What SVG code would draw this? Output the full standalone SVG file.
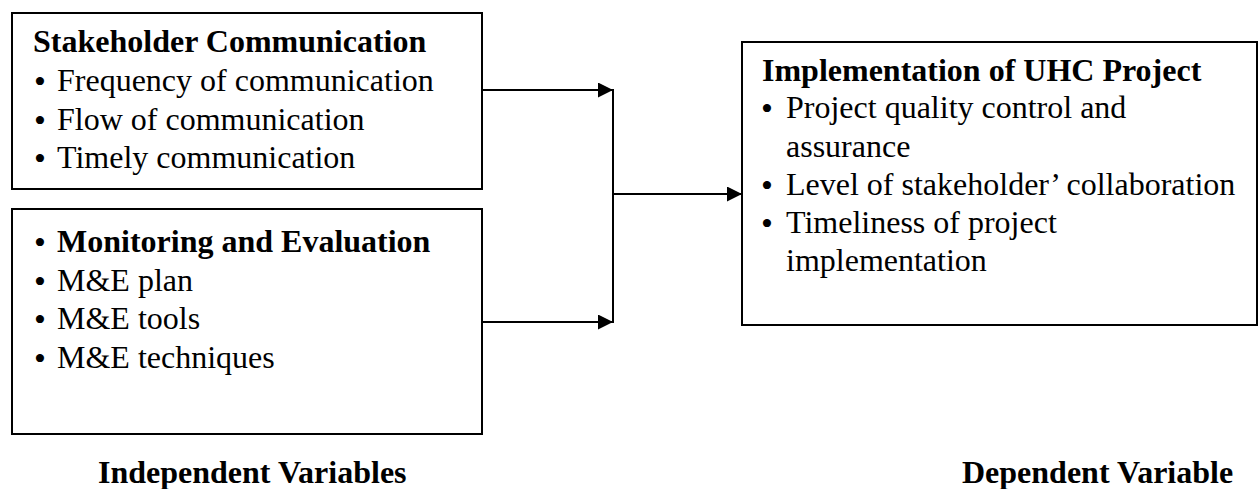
<svg xmlns="http://www.w3.org/2000/svg" width="1259" height="489" viewBox="0 0 1259 489">
<style>
text{font-family:'Liberation Serif','Times New Roman',Times,serif;font-size:32px;fill:#000}
.b{font-weight:bold}
.bu{font-size:34px;font-weight:normal}
.box{fill:#fff;stroke:#000;stroke-width:2}
.ln{fill:none;stroke:#000;stroke-width:2}
</style>
<defs>
<marker id="ah" markerWidth="16" markerHeight="16" refX="15" refY="7.5" orient="auto" markerUnits="userSpaceOnUse">
<path d="M0,0 L15,7.5 L0,15 Z" fill="#000"/>
</marker>
</defs>
<rect width="1259" height="489" fill="#fff"/>
<g id="stakeholder">
<rect class="box" x="12" y="13" width="470" height="176"/>
<text class="b" x="33" y="52">Stakeholder Communication</text>
<text x="34" y="93"><tspan class="bu">•</tspan><tspan x="57" dy="-2">Frequency of communication</tspan></text>
<text x="34" y="132"><tspan class="bu">•</tspan><tspan x="57" dy="-2">Flow of communication</tspan></text>
<text x="34" y="170"><tspan class="bu">•</tspan><tspan x="57" dy="-2">Timely communication</tspan></text>
</g>
<g id="monitoring">
<rect class="box" x="12" y="209" width="470" height="225"/>
<text x="34" y="254"><tspan class="bu">•</tspan><tspan class="b" x="57" dy="-2">Monitoring and Evaluation</tspan></text>
<text x="34" y="293"><tspan class="bu">•</tspan><tspan x="57" dy="-2">M&amp;E plan</tspan></text>
<text x="34" y="331"><tspan class="bu">•</tspan><tspan x="57" dy="-2">M&amp;E tools</tspan></text>
<text x="34" y="370"><tspan class="bu">•</tspan><tspan x="57" dy="-2">M&amp;E techniques</tspan></text>
</g>
<g id="implementation">
<rect class="box" x="742" y="42" width="515" height="283"/>
<text class="b" x="762" y="81">Implementation of UHC Project</text>
<text x="761" y="120"><tspan class="bu">•</tspan><tspan x="786" dy="-2">Project quality control and</tspan><tspan x="786" dy="39">assurance</tspan></text>
<text x="761" y="197"><tspan class="bu">•</tspan><tspan x="786" dy="-2">Level of stakeholder’ collaboration</tspan></text>
<text x="761" y="235"><tspan class="bu">•</tspan><tspan x="786" dy="-2">Timeliness of project</tspan><tspan x="786" dy="38">implementation</tspan></text>
</g>
<g id="connectors">
<line class="ln" x1="482" y1="90" x2="613" y2="90" marker-end="url(#ah)"/>
<line class="ln" x1="482" y1="322" x2="613" y2="322" marker-end="url(#ah)"/>
<line class="ln" x1="613" y1="89" x2="613" y2="323"/>
<line class="ln" x1="613" y1="194" x2="742" y2="194" marker-end="url(#ah)"/>
</g>
<g id="labels">
<text class="b" x="98" y="483">Independent Variables</text>
<text class="b" x="962" y="483">Dependent Variable</text>
</g>
</svg>
